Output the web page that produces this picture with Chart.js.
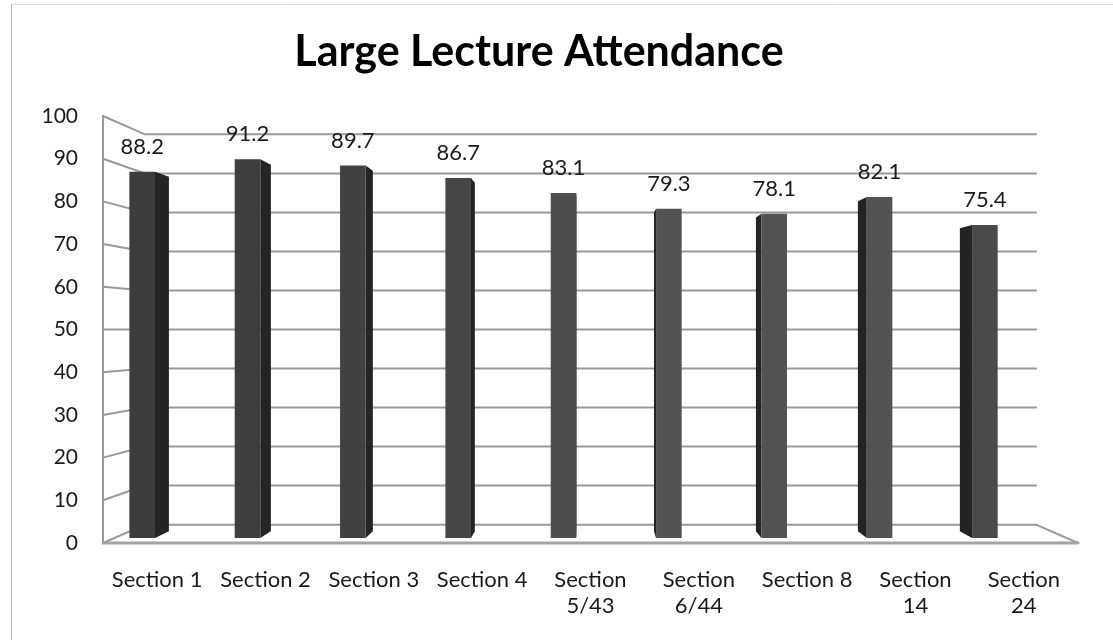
<!DOCTYPE html>
<html>
<head>
<meta charset="utf-8">
<title>Large Lecture Attendance</title>
<script src="https://cdn.jsdelivr.net/npm/chart.js@4.4.1/dist/chart.umd.min.js"></script>
<style>
    html, body { margin: 0; padding: 0; background: #fff; }
    #wrap { position: relative; width: 1113px; height: 640px; }
</style>
</head>
<body>
<div id="wrap"><canvas id="attendanceChart"></canvas></div>
<script>
// Chart data.
const sectionLabels = [
    'Section 1', 'Section 2', 'Section 3', 'Section 4',
    ['Section', '5/43'], ['Section', '6/44'], 'Section 8',
    ['Section', '14'], ['Section', '24']
];
const attendance = [88.2, 91.2, 89.7, 86.7, 83.1, 79.3, 78.1, 82.1, 75.4];
const yTicks = [0, 10, 20, 30, 40, 50, 60, 70, 80, 90, 100];

const FONT = 'Lato, Calibri, Carlito, sans-serif';

// Vanishing point for the fake 3D look is the middle of the plot area.
function toBack(area, px, py, k) {
    const vx = (area.left + area.right) / 2;
    const vy = (area.top + area.bottom) / 2;
    return [px + (vx - px) * k, py + (vy - py) * k];
}

const WALL_DEPTH = 0.086;
const BAR_DEPTH = 0.032;

// Draws the walls, floor and grid lines behind the bars, plus the bar side faces.
const box3d = {
    id: 'box3d',
    beforeDraw(chart) {
        const ctx = chart.ctx;
        ctx.save();
        ctx.lineWidth = 1;
        ctx.strokeStyle = '#dedede';
        ctx.beginPath(); ctx.moveTo(11, 4.5); ctx.lineTo(chart.width, 4.5); ctx.stroke();
        ctx.strokeStyle = '#b8b8b8';
        ctx.beginPath(); ctx.moveTo(11.5, 4); ctx.lineTo(11.5, chart.height); ctx.stroke();
        ctx.restore();
    },
    beforeDatasetsDraw(chart) {
        const { ctx, chartArea: a, scales: { y } } = chart;
        ctx.save();
        ctx.lineCap = 'round';

        // grid lines on the left wall and back wall
        ctx.strokeStyle = '#999';
        ctx.lineWidth = 2;
        const rightBackX = toBack(a, a.right, 0, WALL_DEPTH)[0];
        y.ticks.forEach(t => {
            const fy = y.getPixelForValue(t.value);
            const [bx, by] = toBack(a, a.left, fy, WALL_DEPTH);
            ctx.beginPath();
            ctx.moveTo(a.left, fy);
            ctx.lineTo(bx, by);
            ctx.lineTo(rightBackX, by);
            ctx.stroke();
        });

        // front edge of the left wall
        const yTop = y.getPixelForValue(100);
        const yZero = y.getPixelForValue(0);
        ctx.beginPath();
        ctx.moveTo(a.left, yTop);
        ctx.lineTo(a.left, yZero);
        ctx.stroke();

        // floor
        const [fx, fy] = toBack(a, a.right, yZero, WALL_DEPTH);
        ctx.beginPath();
        ctx.moveTo(fx, fy);
        ctx.lineTo(a.right, yZero);
        ctx.stroke();
        ctx.strokeStyle = '#a3a3a3';
        ctx.lineWidth = 3;
        ctx.beginPath();
        ctx.moveTo(a.left, yZero);
        ctx.lineTo(a.right, yZero);
        ctx.stroke();

        // side faces of the bars
        const meta = chart.getDatasetMeta(0);
        const midX = (a.left + a.right) / 2;
        ctx.fillStyle = '#242424';
        meta.data.forEach(bar => {
            const p = bar.getProps(['x', 'y', 'base', 'width'], true);
            const edge = p.x < midX ? p.x + p.width / 2 : p.x - p.width / 2;
            const [tx, ty] = toBack(a, edge, p.y, BAR_DEPTH);
            const [bx, by] = toBack(a, edge, p.base, BAR_DEPTH);
            ctx.beginPath();
            ctx.moveTo(edge, p.y);
            ctx.lineTo(tx, ty);
            ctx.lineTo(bx, by);
            ctx.lineTo(edge, p.base);
            ctx.closePath();
            ctx.fill();
        });
        ctx.restore();
    },
    afterDatasetsDraw(chart) {
        // value labels above each bar
        const ctx = chart.ctx;
        const meta = chart.getDatasetMeta(0);
        ctx.save();
        ctx.font = '22px ' + FONT;
        ctx.fillStyle = '#1a1a1a';
        ctx.textAlign = 'center';
        ctx.textBaseline = 'middle';
        meta.data.forEach((bar, i) => {
            ctx.fillText(attendance[i].toFixed(1), bar.x, bar.y - 25);
        });
        ctx.restore();
    }
};

const canvas = document.getElementById('attendanceChart');

new Chart(canvas.getContext('2d'), {
    type: 'bar',
    data: {
        datasets: [{
            label: 'Attendance',
            data: attendance.map((v, i) => ({ x: i, y: v })),
            xAxisID: 'xBar',
            yAxisID: 'yBar',
            backgroundColor: ['#3c3c3c', '#3e3e3e', '#414141', '#464646', '#4e4e4e',
                '#535353', '#535353', '#525252', '#4a4a4a'],
            borderWidth: 0,
            barPercentage: 0.275,
            categoryPercentage: 1
        }]
    },
    options: {
        responsive: true,
        maintainAspectRatio: false,
        animation: false,
        layout: { padding: { left: 0, right: 35, top: 0, bottom: 0 } },
        plugins: {
            legend: { display: false },
            tooltip: { enabled: false },
            title: {
                display: true,
                text: 'Large Lecture Attendance',
                color: '#000',
                font: { family: FONT, size: 43, weight: 'bold', lineHeight: 1.2 },
                padding: { top: 26, bottom: 38.4 }
            }
        },
        scales: {
            x: {
                type: 'category',
                labels: sectionLabels,
                position: 'bottom',
                offset: true,
                grid: { display: false },
                border: { display: false },
                ticks: {
                    color: '#1a1a1a',
                    font: { family: FONT, size: 22, lineHeight: 1.22 },
                    padding: 15,
                    maxRotation: 0,
                    autoSkip: false
                },
                afterFit: s => { s.height = 97; }
            },
            // bars sit a little behind the front edge, so they get their own hidden axes
            xBar: { type: 'linear', display: false, offset: false, min: -0.372, max: 8.884 },
            y: {
                type: 'linear',
                position: 'left',
                min: 0,
                max: 100,
                grid: { display: false },
                border: { display: false },
                ticks: {
                    color: '#1a1a1a',
                    font: { family: FONT, size: 21 },
                    padding: 17
                },
                afterBuildTicks: axis => { axis.ticks = yTicks.map(v => ({ value: v })); },
                afterFit: s => { s.width = 103; }
            },
            yBar: { type: 'linear', display: false, min: -1.2, max: 101.62 }
        }
    },
    plugins: [box3d]
});
</script>
</body>
</html>
